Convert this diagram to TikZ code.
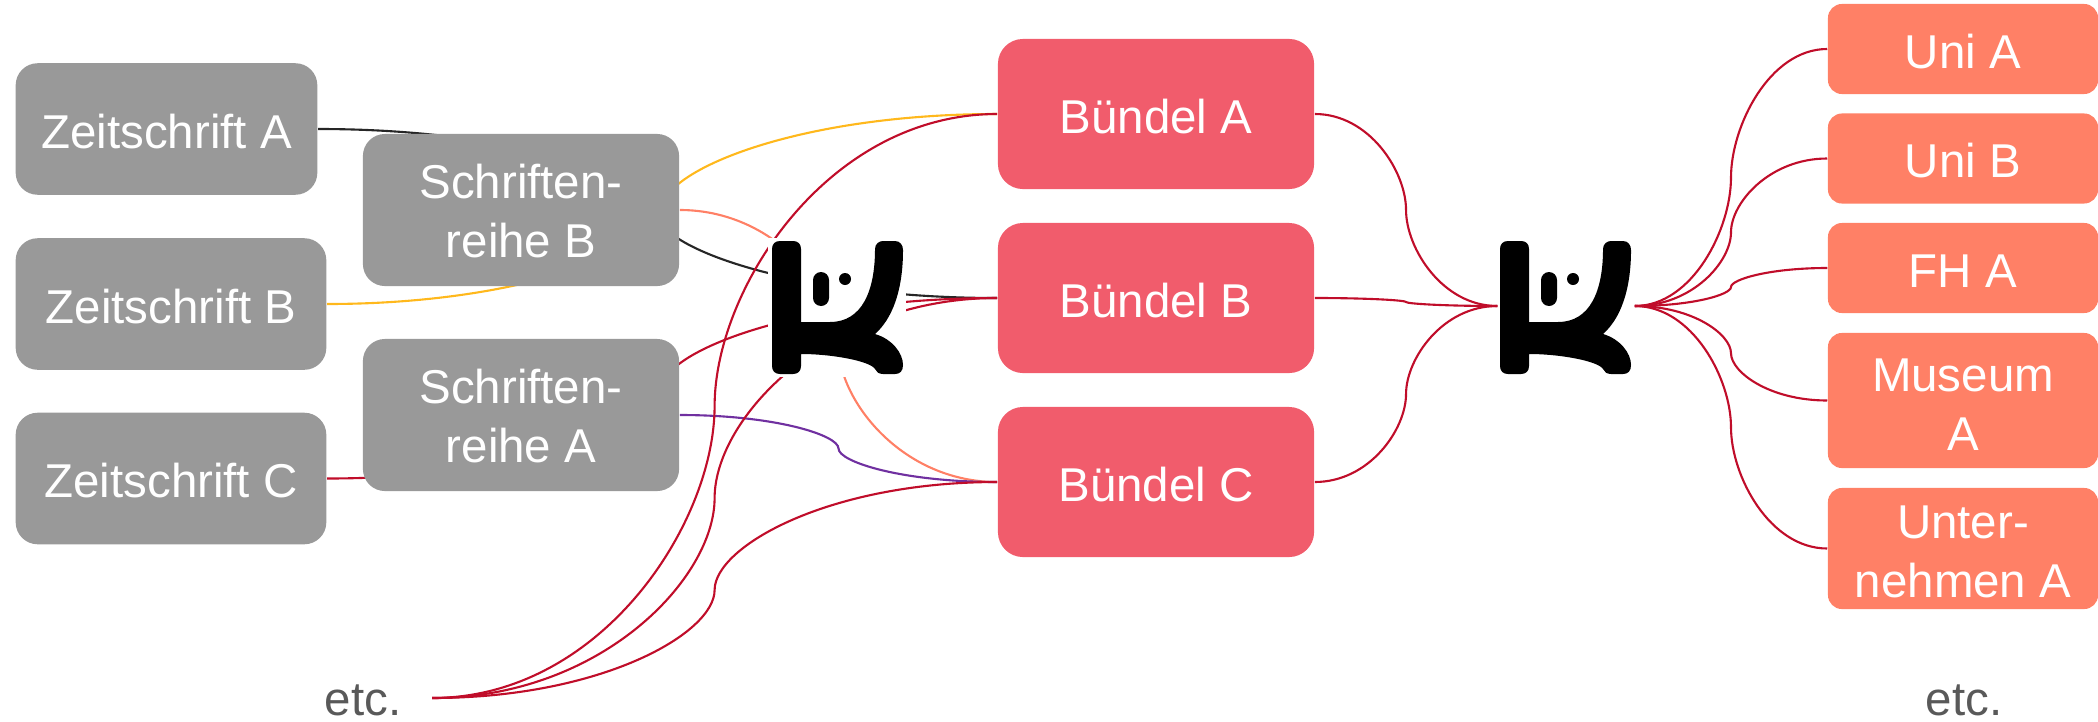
\documentclass[tikz,border=0pt]{standalone}
\usepackage{fontspec}
\setmainfont{Liberation Sans}
\usepackage{tikz}
\usetikzlibrary{calc,positioning,backgrounds}
\definecolor{boxgray}{HTML}{999999}
\definecolor{boxrose}{HTML}{F15C6C}
\definecolor{boxorange}{HTML}{FF8066}
\definecolor{linered}{HTML}{C00D2A}
\definecolor{lineyellow}{HTML}{FFB81C}
\definecolor{linepurple}{HTML}{7030A0}
\definecolor{lineblack}{HTML}{262626}
\definecolor{etcgray}{HTML}{595959}
% connector with a knee half way
\newcommand{\kneelink}[3]{
  \coordinate (knee) at ($(#2)!.5!(#3)$);
  \draw[#1] (#2) .. controls ($(knee |- #2)!.4!(#2)$) and ($(knee)!.4!(knee |- #2)$) .. (knee)
    .. controls ($(knee)!.4!(knee |- #3)$) and ($(knee |- #3)!.4!(#3)$) .. (#3);
}
\tikzset{
  kasten/.style={rounded corners=0.22cm,inner sep=0pt,align=center,text=white,font=\fontsize{13.5}{16.8}\selectfont},
  einzeilig/.style={text height=0.385cm,text depth=0pt},
  zeitschrift/.style={kasten,einzeilig,fill=boxgray,minimum height=1.315cm},
  reihe/.style={kasten,fill=boxgray,minimum width=3.16cm,minimum height=1.52cm},
  buendel/.style={kasten,einzeilig,fill=boxrose,minimum width=3.16cm,minimum height=1.5cm,rounded corners=0.25cm},
  kunde/.style={kasten,fill=boxorange,minimum width=2.7cm,rounded corners=0.14cm},
  logo/.style={fill=white,inner sep=0pt,minimum height=1.38cm},
  etc/.style={text=etcgray,inner sep=0pt,font=\fontsize{13.5}{16.8}\selectfont},
  link/.style={line width=0.6pt},
  kmark/.pic={
    \fill[black] (8,0) -- (21,0) .. controls (26,0) and (29,3) .. (29,8) -- (29,81) -- (58,81)
      .. controls (90,81) and (103,50) .. (103,8) .. controls (103,3) and (107,0) .. (111,0)
      -- (123,0) .. controls (128,0) and (131,4) .. (131,9)
      .. controls (131,50) and (120,78) .. (103,93) .. controls (120,98) and (131,112) .. (131,124)
      .. controls (131,130) and (128,133) .. (123,133) -- (111,133)
      .. controls (107,133) and (104,131) .. (103,128) .. controls (98,120) and (60,113) .. (29,113)
      -- (29,125) .. controls (29,130) and (26,133) .. (21,133) -- (8,133)
      .. controls (3,133) and (0,130) .. (0,125) -- (0,8) .. controls (0,3) and (3,0) .. (8,0) -- cycle;
    \fill[black,rounded corners=0.08cm] (41,31) rectangle (57,65);
    \fill[black] (73,38) circle (0.06cm);
  }
}
\begin{document}
\begin{tikzpicture}[x=0.01cm,y=-0.01cm]
\useasboundingbox (0,0) rectangle (2098,721);

\node[zeitschrift,minimum width=3.015cm] (zeitA) at (166.5,129) {Zeitschrift A};
\node[zeitschrift,minimum width=3.105cm] (zeitB) at (171,304) {Zeitschrift B};
\node[zeitschrift,minimum width=3.105cm] (zeitC) at (171,478.5) {Zeitschrift C};
\node[reihe] (reiheB) at (521,210) {\rule{0pt}{0.37cm}Schriften-\\reihe B};
\node[reihe] (reiheA) at (521,415) {\rule{0pt}{0.37cm}Schriften-\\reihe A};
\node[buendel] (buendelA) at (1156,114) {Bündel A};
\node[buendel] (buendelB) at (1156,298) {Bündel B};
\node[buendel] (buendelC) at (1156,482) {Bündel C};
\node[kunde,einzeilig,minimum height=0.9cm] (uniA) at (1963,49) {Uni A};
\node[kunde,einzeilig,minimum height=0.9cm] (uniB) at (1963,158.5) {Uni B};
\node[kunde,einzeilig,minimum height=0.9cm] (fhA) at (1963,268) {FH A};
\node[kunde,minimum height=1.35cm] (museumA) at (1963,400.5) {\rule{0pt}{0.41cm}Museum\\A};
\node[kunde,minimum height=1.21cm] (unternehmenA) at (1963,548.5) {\rule{0pt}{0.39cm}Unter-\\nehmen A};

\node[logo,minimum width=1.38cm] (logoL) at (837,307.5) {};
\node[logo,minimum width=1.36cm] (logoR) at (1566,306) {};
\pic at (772,241) {kmark};
\pic at (1500,241) {kmark};

\node[etc,anchor=east] (etcL) at (402,700) {etc.};
\node[etc,anchor=east] (etcR) at (2003,700) {etc.};
\coordinate (etcStart) at (432,698);

\begin{pgfonlayer}{background}
\kneelink{link,lineblack}{zeitA.east}{buendelB.west}
\kneelink{link,lineyellow}{zeitB.east}{buendelA.west}
\kneelink{link,linered}{zeitC.east}{buendelB.west}
\kneelink{link,boxorange}{reiheB.east}{buendelC.west}
\kneelink{link,linepurple}{reiheA.east}{buendelC.west}
\kneelink{link,linered}{etcStart}{buendelA.west}
\kneelink{link,linered}{etcStart}{buendelB.west}
\kneelink{link,linered}{etcStart}{buendelC.west}
% rechte Seite
\foreach \bund in {buendelA,buendelB,buendelC}{
  \kneelink{link,linered}{\bund.east}{logoR.west}
}
\foreach \kunde in {uniA,uniB,fhA,museumA,unternehmenA}{
  \kneelink{link,linered}{logoR.east}{\kunde.west}
}
\end{pgfonlayer}
\end{tikzpicture}
\end{document}
